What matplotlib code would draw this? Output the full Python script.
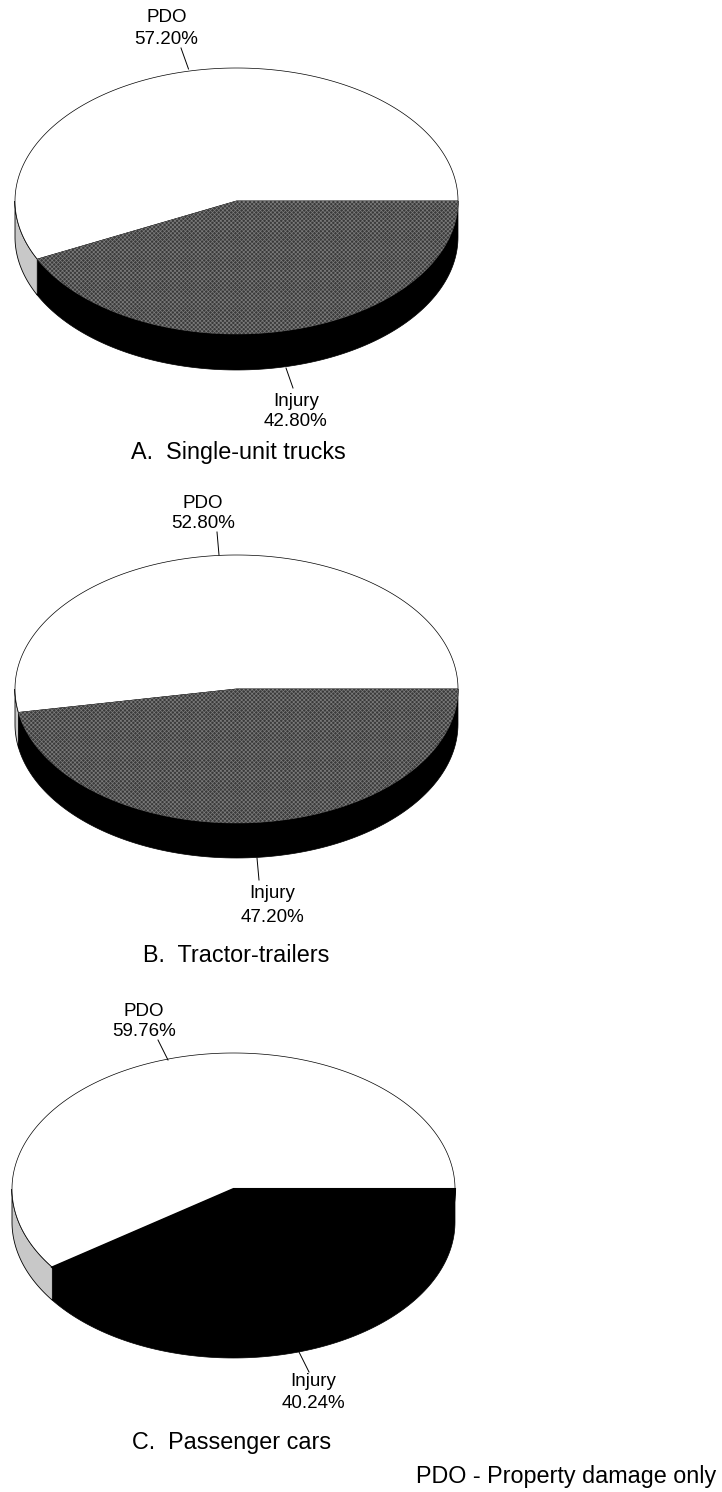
"""Three 3D-style pie charts of crash severity by vehicle type."""

import matplotlib

matplotlib.use("Agg")
import matplotlib.pyplot as plt
import numpy as np

plt.rcParams["font.family"] = ["Liberation Sans", "DejaVu Sans"]
plt.rcParams["hatch.linewidth"] = 0.5

# data
panel_titles = ["A.  Single-unit trucks", "B.  Tractor-trailers", "C.  Passenger cars"]
injury_share = [42.80, 47.20, 40.24]
pdo_share = [57.20, 52.80, 59.76]
footnote = "PDO - Property damage only"

# layout, in reference pixels
centers = [(236.5, 201), (236.5, 689), (233.5, 1189)]
radii = [(221.5, 133), (221.5, 134), (221.5, 136)]
depths = [36, 35, 33]
top_colors = ["#3a3a3a", "#3a3a3a", "#000000"]
top_hatch = ["xxxxxxxx", "xxxxxxxx", None]
pdo_leader = [((181, 48), (188.5, 69)), ((217, 532), (219, 555)), ((158, 1040), (168, 1060))]
injury_leader = [((286, 368), (293, 388)), ((257, 858), (259, 880)), ((299, 1352), (309, 1372))]
pdo_text = [(166.5, 18, 39), (203, 503, 523), (144, 1012, 1031)]
injury_text = [(296, 401, 422), (272.5, 894, 917), (313.5, 1382, 1404)]
title_pos = [(131, 453), (143, 955), (132, 1442)]


def rim(cx, cy, rx, ry, t0, t1, n=120):
    t = np.radians(np.linspace(t0, t1, n))
    return cx + rx * np.cos(t), cy + ry * np.sin(t)


fig = plt.figure(figsize=(7.22, 14.92), dpi=100)
ax = fig.add_axes([0, 0, 1, 1])
ax.set_xlim(0, 722)
ax.set_ylim(1492, 0)
ax.axis("off")

for i, title in enumerate(panel_titles):
    cx, cy = centers[i]
    rx, ry = radii[i]
    depth = depths[i]
    split = injury_share[i] * 3.6

    # side walls
    x, y = rim(cx, cy, rx, ry, 0, split)
    ax.fill(np.r_[x, x[::-1]], np.r_[y, y[::-1] + depth], color="black", lw=0.5)
    x, y = rim(cx, cy, rx, ry, split, 180)
    ax.fill(np.r_[x, x[::-1]], np.r_[y, y[::-1] + depth], facecolor="#c8c8c8", edgecolor="black", lw=0.6)

    # top slices
    x, y = rim(cx, cy, rx, ry, split, split + pdo_share[i] * 3.6, 240)
    ax.fill(np.r_[cx, x], np.r_[cy, y], facecolor="white", edgecolor="black", lw=0.5)
    x, y = rim(cx, cy, rx, ry, 0, split)
    # wider edge closes the antialiasing seam where black meets black
    ax.fill(np.r_[cx, x], np.r_[cy, y], facecolor=top_colors[i], edgecolor=top_colors[i], lw=1.5 if top_hatch[i] is None else 0.5)
    if top_hatch[i]:
        ax.fill(np.r_[cx, x], np.r_[cy, y], facecolor="none", edgecolor="#7c7c7c", lw=0, hatch=top_hatch[i])

    # leaders
    for start, end in (pdo_leader[i], injury_leader[i]):
        ax.plot([start[0], end[0]], [start[1], end[1]], color="black", lw=0.7)

    # labels
    tx, y1, y2 = pdo_text[i]
    ax.text(tx, y1, "PDO", ha="center", va="center", fontsize=13.5)
    ax.text(tx, y2, f"{pdo_share[i]:.2f}%", ha="center", va="center", fontsize=13.5)
    tx, y1, y2 = injury_text[i]
    ax.text(tx, y1, "Injury", ha="center", va="center", fontsize=13.5)
    ax.text(tx, y2, f"{injury_share[i]:.2f}%", ha="center", va="center", fontsize=13.5)
    ax.text(title_pos[i][0], title_pos[i][1], title, ha="left", va="center", fontsize=16.8)

ax.text(716, 1477, footnote, ha="right", va="center", fontsize=16.8)

fig.savefig("out.png", dpi=100, facecolor="white")
